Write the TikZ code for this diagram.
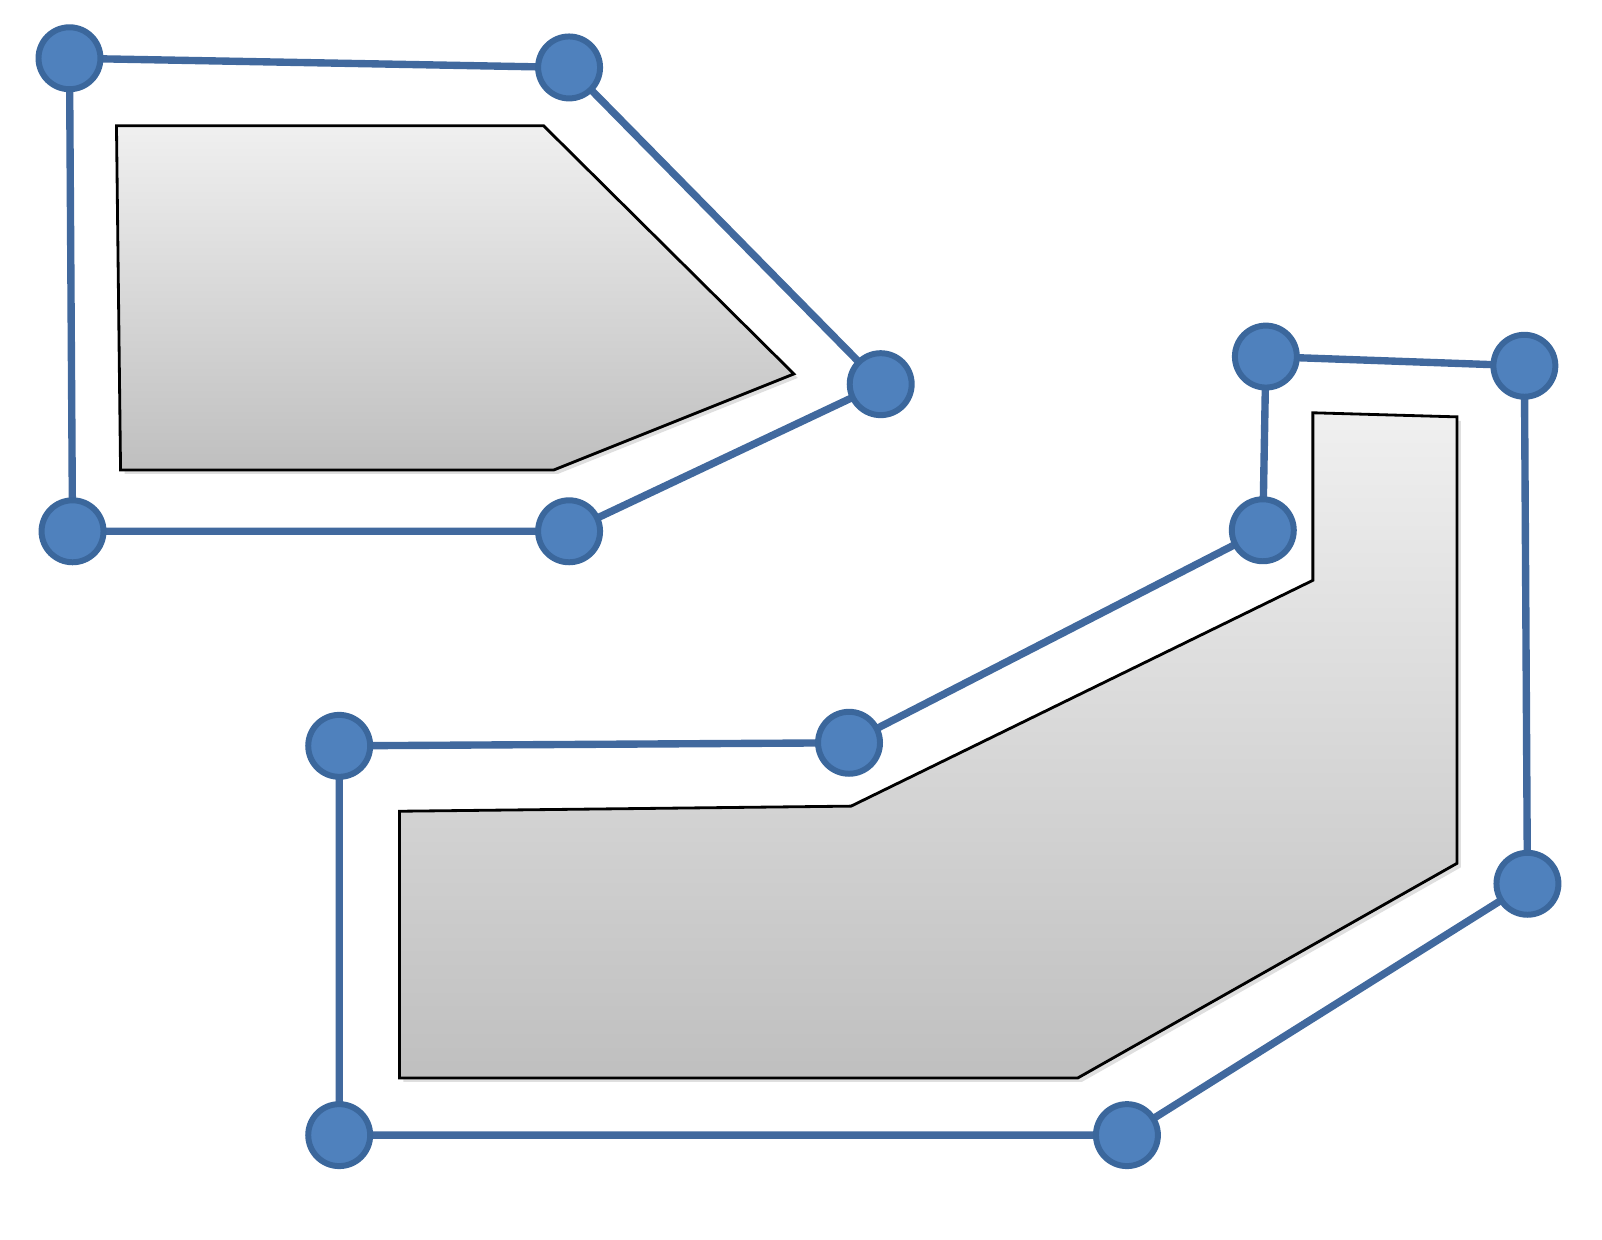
\documentclass[tikz,border=0pt]{standalone}
\usetikzlibrary{shadows}
\definecolor{ptblue}{HTML}{4F81BD}
\definecolor{ptedge}{HTML}{3B679C}
\definecolor{ptline}{HTML}{41699E}
\tikzset{
  pt/.style={circle,fill=ptblue,draw=ptedge,line width=1.7pt,minimum size=0.62cm,inner sep=0pt},
  hull/.style={draw=ptline,line width=2.1pt},
  obst/.style={draw=black,line width=0.8pt,top color=gray!12,bottom color=gray!50,
    drop shadow={shadow xshift=0.04cm,shadow yshift=-0.04cm,opacity=0.25}}
}
\begin{document}
\begin{tikzpicture}[x=0.010217cm,y=-0.010217cm]
		\useasboundingbox (0,0) rectangle (1568,1213);
		% obstacles
		\path[obst] (114,123) -- (532,123) -- (777,366) -- (542,460) -- (118,460) -- cycle;
		\path[obst] (1285,404) -- (1426,408) -- (1426,845) -- (1055,1055) -- (391,1055) -- (391,794) -- (833,789) -- (1285,568) -- cycle;
		% upper hull
		\foreach \n / \x / \y in {a1/68/57,a2/557/66,a3/862/376,a4/557/520,a5/71/520} { \coordinate (\n) at (\x,\y);}
		% lower hull
		\foreach \n / \x / \y in {b1/1239/349,b2/1492/358,b3/1495/865,b4/1103/1111,b5/332/1111,b6/332/730,b7/831/727,b8/1236/519} { \coordinate (\n) at (\x,\y);}
		\draw[hull] (a1) -- (a2) -- (a3) -- (a4) -- (a5) -- cycle;
		\draw[hull] (b1) -- (b2) -- (b3) -- (b4) -- (b5) -- (b6) -- (b7) -- (b8) -- cycle;
		\foreach \n in {a1,a2,a3,a4,a5,b1,b2,b3,b4,b5,b6,b7,b8} { \node[pt] (\n n) at (\n) {};}
	\end{tikzpicture}
\end{document}
